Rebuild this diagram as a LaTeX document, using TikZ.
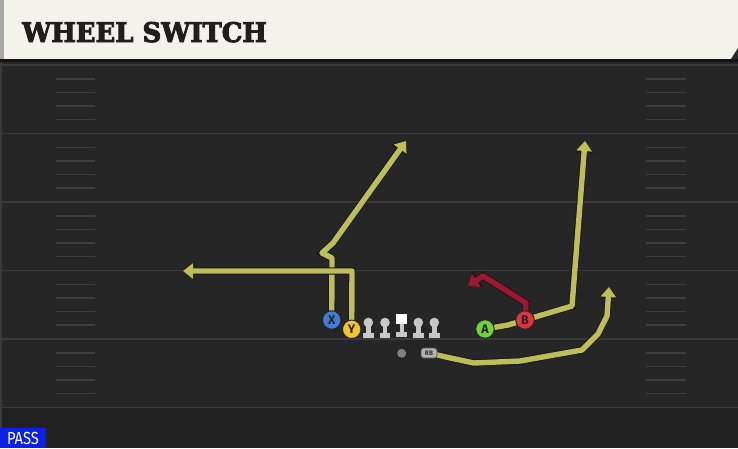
\documentclass[tikz,border=0pt]{standalone}
\usepackage{fontspec}
\usetikzlibrary{arrows.meta}
\setsansfont{Fira Sans}
\newfontfamily\titlefont{DejaVu Serif}[BoldFeatures={FakeBold=3.5}]

\definecolor{cream}{RGB}{244,242,236}
\definecolor{fieldgray}{RGB}{38,38,38}
\definecolor{fieldline}{RGB}{58,58,58}
\definecolor{hashgray}{RGB}{62,62,62}
\definecolor{routeyellow}{RGB}{190,190,88}
\definecolor{routered}{RGB}{160,22,50}
\definecolor{xblue}{RGB}{62,124,214}
\definecolor{yyellow}{RGB}{244,196,44}
\definecolor{agreen}{RGB}{112,208,64}
\definecolor{bred}{RGB}{222,52,62}
\definecolor{linegray}{RGB}{200,200,200}
\definecolor{passblue}{RGB}{12,32,232}

\pgfdeclarelayer{field}
\pgfdeclarelayer{routes}
\pgfsetlayers{field,routes,main}

\tikzset{
  player/.style={circle, draw=black!85, line width=1pt, minimum size=18.5pt,
    inner sep=0pt, font=\sffamily\bfseries\fontsize{12.5}{12.5}\selectfont, text=black!85},
  route/.style={draw=routeyellow, line width=5.4pt, line join=round,
    -{Triangle[length=10pt,width=15pt]},
    preaction={draw=black!90, line width=7.4pt, -{Triangle[length=12pt,width=18pt]}}},
  redroute/.style={route, draw=routered},
  hash/.style={draw=hashgray, line width=1.6pt},
  yardline/.style={draw=fieldline, line width=1.8pt}
}

\begin{document}
\begin{tikzpicture}[x=1pt,y=-1pt]
  \useasboundingbox (0,0) rectangle (738,448);

  % field
  \begin{pgfonlayer}{field}
    \fill[fieldgray] (0,59) rectangle (738,448);
    \fill[black!87] (0,408) rectangle (738,448);
    \fill[fieldline] (0,59) rectangle (2,448);
    \foreach \k in {0,...,5}
      \draw[yardline] (0,65+68.5*\k) -- (738,65+68.5*\k);
    \foreach \k in {0,...,4}
      \foreach \d in {14,27.5,41,54.5} {
        \draw[hash] (56,65+68.5*\k+\d) -- (95,65+68.5*\k+\d);
        \draw[hash] (646,65+68.5*\k+\d) -- (686,65+68.5*\k+\d);
      }
  \end{pgfonlayer}

  % header
  \fill[cream] (0,0) rectangle (738,59);
  \fill[black!35] (0,0) rectangle (4,59);
  \fill[black!85] (738,48) -- (738,59) -- (731,59) -- cycle;
  \fill[black!92] (0,59) rectangle (738,62);
  \node[anchor=base west, inner sep=0pt, text=black!88, xscale=0.96,
    font=\titlefont\bfseries\fontsize{27}{27}\selectfont] (title) at (22,42) {WHEEL SWITCH};

  % line
  \foreach \lx in {368.3,385,418.3,434.3} {
    \fill[linegray] (\lx,322.5) circle (4.8);
    \fill[linegray] (\lx-2.2,326) rectangle (\lx+2.2,333);
    \fill[linegray] (\lx-5.2,332.5) rectangle (\lx+5.2,337.5);
  }
  \fill[white] (396.2,313.5) rectangle (407.2,324);
  \fill[linegray] (399.5,324) rectangle (403.9,332);
  \fill[linegray] (396.2,331.5) rectangle (407.2,336.5);

  % players
  \node[player, fill=xblue] (X) at (331.7,320) {X};
  \node[player, fill=yyellow] (Y) at (351.7,329.3) {Y};
  \node[player, fill=agreen] (A) at (485,329) {A};
  \node[player, fill=bred] (B) at (525,320) {B};
  \node[circle, fill=black!50, minimum size=9pt, inner sep=0pt] (QB) at (401.7,353.3) {};
  \node[rounded corners=2.5pt, fill=black!30, draw=black!70, line width=0.7pt,
    minimum width=16pt, minimum height=10pt, inner sep=0pt, text=black!80,
    font=\sffamily\bfseries\fontsize{6.5}{6.5}\selectfont] (RB) at (429,353) {RB};

  % routes
  \begin{pgfonlayer}{routes}
    \draw[route] (X.center) -- (332,258) -- (322,253) -- (333,243) -- (406,141);
    \draw[route] (Y.center) -- (352,271) -- (183,271);
    \draw[route] (A.center) -- (508,325) -- (B.center) -- (572,306) -- (585,141);
    \draw[redroute] (B.center) -- (526,303) -- (483,276) -- (468,286);
    \draw[route] (RB.center) -- (446,357) -- (474,363) -- (520,361) -- (582,350)
      -- (598,334) -- (607,316) -- (609,287);
  \end{pgfonlayer}

  % play type
  \fill[passblue] (0,428) rectangle (46,448);
  \node[anchor=base, text=white, inner sep=0pt, font=\sffamily\fontsize{17.5}{17.5}\selectfont,
    xscale=0.84] (pass) at (23,444) {PASS};
\end{tikzpicture}
\end{document}
